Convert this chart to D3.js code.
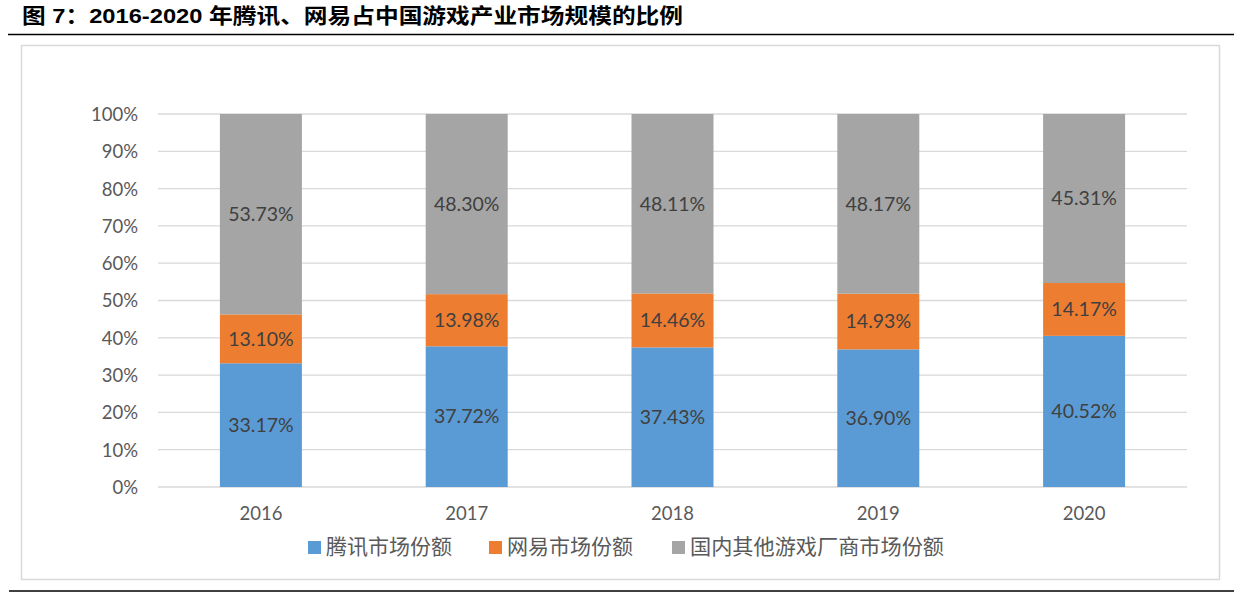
<!DOCTYPE html>
<html>
<head>
<meta charset="utf-8">
<script src="https://cdn.jsdelivr.net/npm/d3@7"></script>
<style>
  html, body { margin: 0; padding: 0; background: #fff; }
  svg { display: block; }
</style>
</head>
<body>
<svg id="chart" width="1242" height="596"></svg>
<script>
const title = "图 7：2016-2020 年腾讯、网易占中国游戏产业市场规模的比例";
const years = ["2016", "2017", "2018", "2019", "2020"];
const seriesNames = ["腾讯市场份额", "网易市场份额", "国内其他游戏厂商市场份额"];
const tencent = [33.17, 37.72, 37.43, 36.90, 40.52];
const netease = [13.10, 13.98, 14.46, 14.93, 14.17];
const others = [53.73, 48.30, 48.11, 48.17, 45.31];
const yTicks = [0, 10, 20, 30, 40, 50, 60, 70, 80, 90, 100];
const colors = ["#5B9BD5", "#ED7D31", "#A5A5A5"];

const svg = d3.select("#chart");
const fontNum = "Lato, 'Noto Sans CJK SC', sans-serif";
const fontCJK = "'Noto Sans CJK SC', Lato, sans-serif";

// Title
svg.append("text")
  .attr("x", 22).attr("y", 23)
  .attr("font-family", "'Liberation Sans', 'Noto Sans CJK SC', sans-serif")
  .attr("font-weight", "bold")
  .attr("font-size", 21)
  .attr("textLength", 661)
  .attr("lengthAdjust", "spacingAndGlyphs")
  .attr("fill", "#000")
  .text(title);

svg.append("line").attr("x1", 8).attr("x2", 1234).attr("y1", 34.5).attr("y2", 34.5)
  .attr("stroke", "#000").attr("stroke-width", 1.6);
svg.append("line").attr("x1", 9).attr("x2", 1234).attr("y1", 591).attr("y2", 591)
  .attr("stroke", "#000").attr("stroke-width", 1.6);

// Frame
svg.append("rect").attr("x", 21.5).attr("y", 45.5).attr("width", 1198).attr("height", 534)
  .attr("fill", "none").attr("stroke", "#D9D9D9").attr("stroke-width", 1.5);

const x = d3.scaleBand().domain(years).range([158, 1187]).padding(0);
const y = d3.scaleLinear().domain([0, 100]).range([487, 114]);
const barW = 82;

// Gridlines
svg.append("g").selectAll("line").data(yTicks).join("line")
  .attr("x1", 158).attr("x2", 1187)
  .attr("y1", d => y(d)).attr("y2", d => y(d))
  .attr("stroke", "#D9D9D9").attr("stroke-width", 1.3);

// Y axis labels
const yAxis = d3.axisLeft(y).tickValues(yTicks).tickFormat(d => d + "%").tickSize(0).tickPadding(0);
const gy = svg.append("g").attr("transform", "translate(138,0)").call(yAxis);
gy.select(".domain").remove();
gy.selectAll("text").attr("font-family", fontNum).attr("font-size", 18.5).attr("fill", "#595959").attr("dy", "0.35em");

// X axis labels
const xAxis = d3.axisBottom(x).tickSize(0).tickPadding(0);
const gx = svg.append("g").attr("transform", "translate(0,507)").call(xAxis);
gx.select(".domain").remove();
gx.selectAll("text").attr("font-family", fontNum).attr("font-size", 18.5).attr("fill", "#595959").attr("dy", "0.71em");

// Stacked data
const rows = years.map((yr, i) => ({ year: yr, s0: tencent[i], s1: netease[i], s2: others[i] }));
const stack = d3.stack().keys(["s0", "s1", "s2"])(rows);

const g = svg.append("g");
stack.forEach((layer, li) => {
  g.append("g").selectAll("rect").data(layer).join("rect")
    .attr("x", d => x(d.data.year) + x.bandwidth() / 2 - barW / 2)
    .attr("width", barW)
    .attr("y", d => y(d[1]))
    .attr("height", d => y(d[0]) - y(d[1]))
    .attr("fill", colors[li]);
  g.append("g").selectAll("text").data(layer).join("text")
    .attr("x", d => x(d.data.year) + x.bandwidth() / 2)
    .attr("y", d => y((d[0] + d[1]) / 2))
    .attr("dy", "0.35em")
    .attr("text-anchor", "middle")
    .attr("font-family", fontNum)
    .attr("font-size", 19.5)
    .attr("fill", "#404040")
    .text(d => (d[1] - d[0]).toFixed(2) + "%");
});

// Legend
const legendX = [308, 489, 672];
const legendW = [126, 126, 254];
const lg = svg.append("g");
seriesNames.forEach((name, i) => {
  lg.append("rect").attr("x", legendX[i]).attr("y", 541).attr("width", 13).attr("height", 13).attr("fill", colors[i]);
  lg.append("text").attr("x", legendX[i] + 18).attr("y", 547).attr("dy", "0.35em")
    .attr("font-family", fontCJK).attr("font-size", 21).attr("fill", "#595959")
    .attr("textLength", legendW[i]).attr("lengthAdjust", "spacingAndGlyphs")
    .text(name);
});
</script>
</body>
</html>
